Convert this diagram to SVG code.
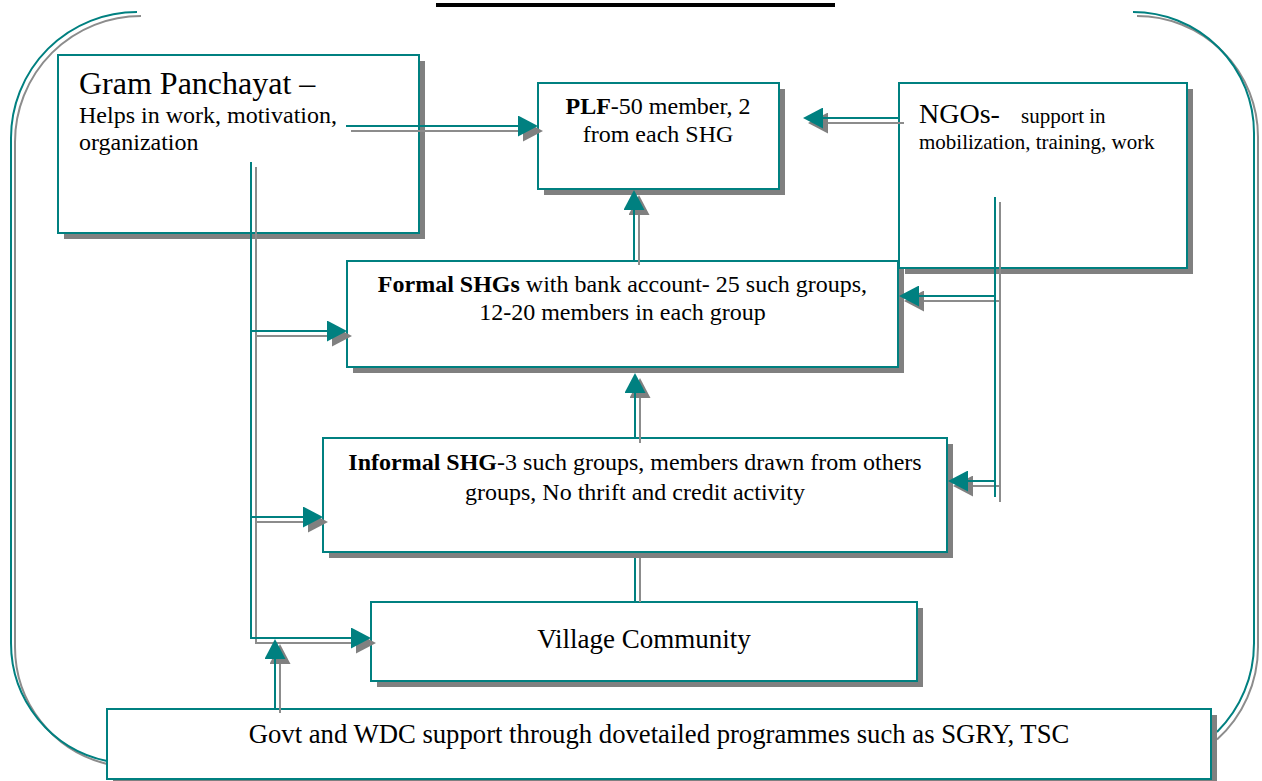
<svg xmlns="http://www.w3.org/2000/svg" width="1262" height="781" viewBox="0 0 1262 781">
<style>
.box{fill:#fff;stroke:#008080;stroke-width:2}
.sh{fill:#808080}
.fr{fill:none;stroke:#008080;stroke-width:2}
.frs{fill:none;stroke:#8c8c8c;stroke-width:2}
.c{fill:none;stroke:#008080;stroke-width:2}
.cs{fill:none;stroke:#8c8c8c;stroke-width:2}
.ca{marker-end:url(#ah)}
.csa{marker-end:url(#ahs)}
</style>
<defs>
<marker id="ah" markerUnits="userSpaceOnUse" viewBox="0 0 20 21" refX="18" refY="10.5" markerWidth="20" markerHeight="21" orient="auto"><path d="M0,0 L20,10.5 L0,21 z" fill="#008080"/></marker>
<marker id="ahs" markerUnits="userSpaceOnUse" viewBox="0 0 20 21" refX="18" refY="10.5" markerWidth="20" markerHeight="21" orient="auto"><path d="M0,0 L20,10.5 L0,21 z" fill="#808080"/></marker>
</defs>
<rect width="1262" height="781" fill="#fff"/>
<rect x="436" y="3" width="399" height="4" fill="#000"/>
<g id="frame">
<path class="frs" d="M141,16 A126,126 0 0 0 15,142 L15,647 A120.5,120.5 0 0 0 107,764"/>
<path class="fr" d="M137,12 A126,126 0 0 0 11,138 L11,643 A120.5,120.5 0 0 0 107,761"/>
<path class="frs" d="M1137,16 A121,121 0 0 1 1258,137 L1258,647 A125,125 0 0 1 1217,739.6"/>
<path class="fr" d="M1133,12 A121,121 0 0 1 1254,133 L1254,643 A125,125 0 0 1 1217,732"/>
</g>
<g font-family="'Liberation Serif', 'Times New Roman', 'DejaVu Serif', serif" fill="#000">
<g id="gram-panchayat">
<rect class="sh" x="64" y="61" width="361" height="178"/>
<rect class="box" x="58" y="55" width="361" height="178"/>
<text x="79" y="94" font-size="32">Gram Panchayat –</text>
<text x="79" y="123" font-size="24">Helps in work, motivation,</text>
<text x="79" y="150" font-size="24">organization</text>
</g>
<g id="plf">
<rect class="sh" x="544" y="89" width="241" height="106"/>
<rect class="box" x="538" y="83" width="241" height="106"/>
<text x="658" y="114" font-size="24" text-anchor="middle"><tspan font-weight="bold">PLF</tspan>-50 member, 2</text>
<text x="658" y="142" font-size="24" text-anchor="middle">from each SHG</text>
</g>
<g id="formal-shgs">
<rect class="sh" x="353" y="267" width="551" height="106"/>
<rect class="box" x="347" y="261" width="551" height="106"/>
<text x="622.5" y="292" font-size="24" text-anchor="middle"><tspan font-weight="bold">Formal SHGs</tspan> with bank account- 25 such groups,</text>
<text x="622.5" y="320" font-size="24" text-anchor="middle">12-20 members in each group</text>
</g>
<g id="ngos">
<rect class="sh" x="905" y="89" width="288" height="185"/>
<rect class="box" x="899" y="83" width="288" height="185"/>
<text x="919" y="123" font-size="28">NGOs-</text>
<text x="1021" y="123" font-size="21">support in</text>
<text x="919" y="149" font-size="21">mobilization, training, work</text>
</g>
<g id="informal-shg">
<rect class="sh" x="329" y="444" width="624" height="114"/>
<rect class="box" x="323" y="438" width="624" height="114"/>
<text x="635" y="470" font-size="24" text-anchor="middle"><tspan font-weight="bold">Informal SHG</tspan>-3 such groups, members drawn from others</text>
<text x="635" y="500" font-size="24" text-anchor="middle">groups, No thrift and credit activity</text>
</g>
<g id="village-community">
<rect class="sh" x="377" y="608" width="546" height="79"/>
<rect class="box" x="371" y="602" width="546" height="79"/>
<text x="644" y="648" font-size="27" text-anchor="middle">Village Community</text>
</g>
<g id="govt-wdc">
<rect class="sh" x="113" y="715" width="1104" height="70"/>
<rect class="box" x="107" y="709" width="1104" height="70"/>
<text x="659" y="743" font-size="26.7" text-anchor="middle">Govt and WDC support through dovetailed programmes such as SGRY, TSC</text>
</g>
</g>
<g id="connectors">
<g transform="translate(5,5)">
<path class="cs csa" d="M346,126 H536"/>
<path class="cs csa" d="M251,162 V638 H369"/>
<path class="cs csa" d="M251,331 H345"/>
<path class="cs csa" d="M251,517 H321"/>
<path class="cs csa" d="M275,708 V641"/>
<path class="cs csa" d="M634,260 V192"/>
<path class="cs csa" d="M635,438 V375"/>
<path class="cs csa" d="M899,118 H805"/>
<path class="cs" d="M995,197 V497"/>
<path class="cs csa" d="M995,296 H901"/>
<path class="cs csa" d="M995,481 H950"/>
</g>
<path class="cs" d="M640,558 V602"/>
<path class="c ca" d="M346,126 H536"/>
<path class="c ca" d="M251,162 V638 H369"/>
<path class="c ca" d="M251,331 H345"/>
<path class="c ca" d="M251,517 H321"/>
<path class="c ca" d="M275,708 V641"/>
<path class="c ca" d="M634,260 V192"/>
<path class="c ca" d="M635,438 V375"/>
<path class="c ca" d="M899,118 H805"/>
<path class="c" d="M995,197 V497"/>
<path class="c ca" d="M995,296 H901"/>
<path class="c ca" d="M995,481 H950"/>
<path class="c" d="M635,558 V602"/>
</g>
</svg>
